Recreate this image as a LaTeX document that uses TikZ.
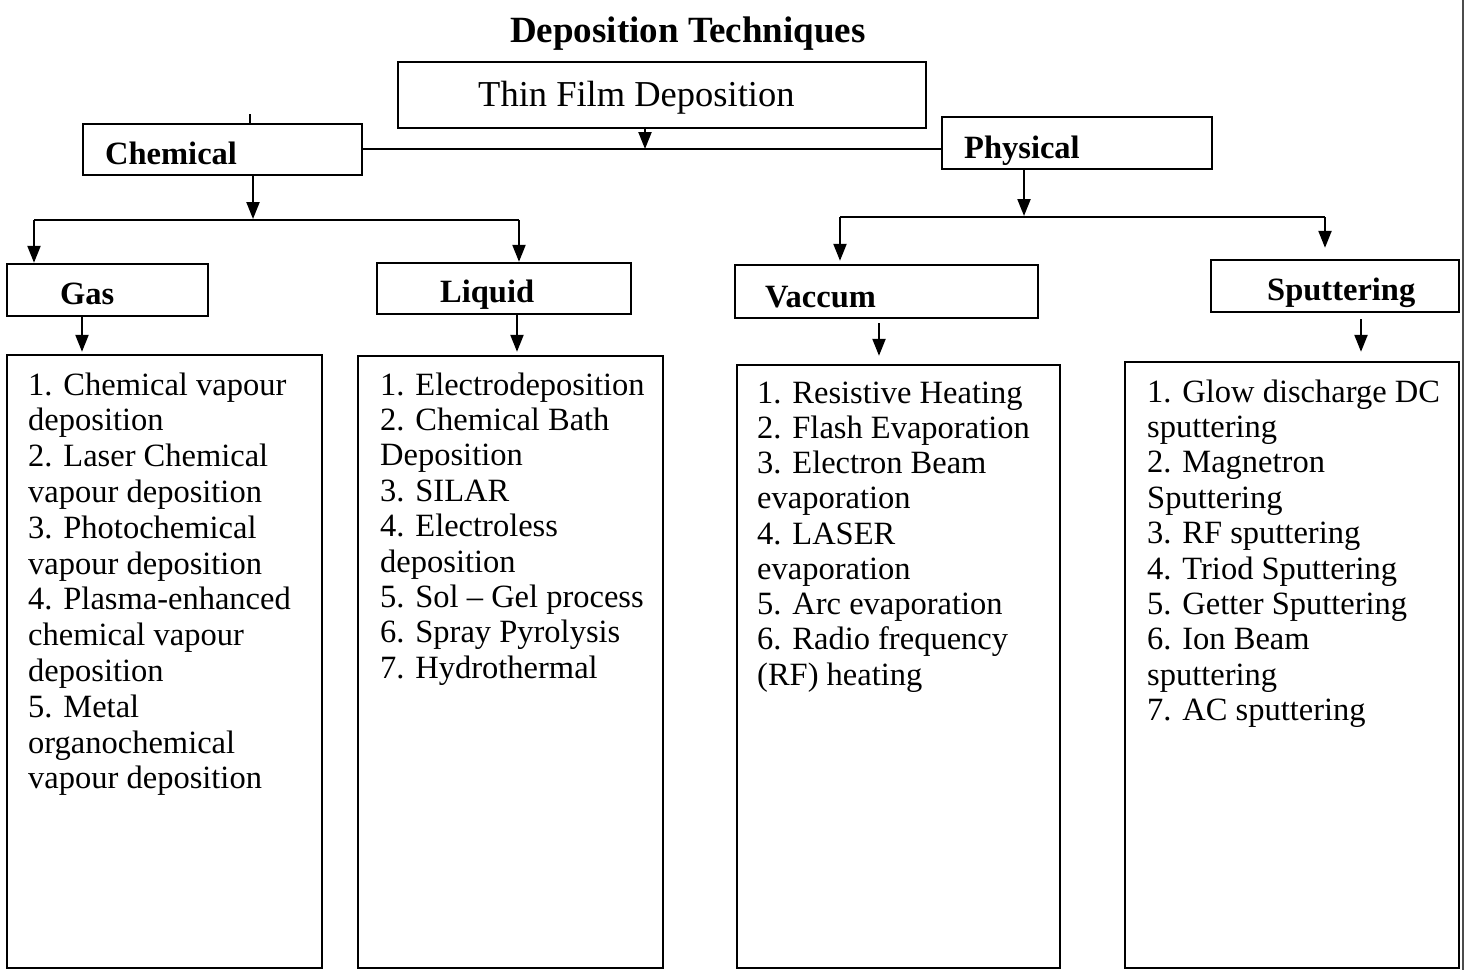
\documentclass[tikz,border=0pt]{standalone}
\usepackage{fontspec}
\setmainfont{Liberation Serif}
\usetikzlibrary{arrows.meta,calc}
\begin{document}
\begin{tikzpicture}[x=1pt,y=-1pt,
  box/.style={draw, line width=2.4pt, rectangle, inner sep=0pt},
  conn/.style={line width=2.2pt},
  arr/.style={line width=2.2pt, -{Triangle[length=17pt,width=13pt]}},
  head/.style={font=\fontsize{32.5}{36}\selectfont\bfseries, anchor=base west, inner sep=0pt},
  item/.style={font=\fontsize{32.5}{36}\selectfont, anchor=base west, inner sep=0pt}]
\useasboundingbox (0,0) rectangle (1466,970);
% title
\node[font=\fontsize{37}{40}\selectfont\bfseries, anchor=base west, inner sep=0pt] (title) at (510,42) {Deposition Techniques};
% boxes
\node[box, minimum width=528pt, minimum height=66pt] (thin) at (662,95) {};
\node[font=\fontsize{36.5}{40}\selectfont, anchor=base west, inner sep=0pt] (thintxt) at (478,106) {Thin Film Deposition};
\node[box, minimum width=279pt, minimum height=51pt] (chem) at (222.5,149.5) {};
\node[head] (chemtxt) at (105,164) {Chemical};
\node[box, minimum width=270pt, minimum height=52pt] (phys) at (1077,143) {};
\node[head] (phystxt) at (964,158) {Physical};
\node[box, minimum width=201pt, minimum height=52pt] (gas) at (107.5,290) {};
\node[head] (gastxt) at (60,304) {Gas};
\node[box, minimum width=254pt, minimum height=51pt] (liq) at (504,288.5) {};
\node[head] (liqtxt) at (440,302) {Liquid};
\node[box, minimum width=303pt, minimum height=53pt] (vac) at (886.5,291.5) {};
\node[head] (vactxt) at (765,307) {Vaccum};
\node[box, minimum width=248pt, minimum height=52pt] (spu) at (1335,286) {};
\node[head] (sputxt) at (1267,300) {Sputtering};
\node[box, minimum width=315pt, minimum height=613pt] (L1) at (164.5,661.5) {};
\node[box, minimum width=305pt, minimum height=612pt] (L2) at (510.5,662) {};
\node[box, minimum width=323pt, minimum height=603pt] (L3) at (898.5,666.5) {};
\node[box, minimum width=334pt, minimum height=606pt] (L4) at (1292,665) {};
% list texts
\foreach \t [count=\i from 0] in {1. Chemical vapour, deposition, 2. Laser Chemical, vapour deposition, 3. Photochemical, vapour deposition, 4. Plasma-enhanced, chemical vapour, deposition, 5. Metal, organochemical, vapour deposition}
  \node[item] (a\i) at (28,395+\i*35.8) {\t};
\foreach \t [count=\i from 0] in {1. Electrodeposition, 2. Chemical Bath, Deposition, 3. SILAR, 4. Electroless, deposition, 5. Sol – Gel process, 6. Spray Pyrolysis, 7. Hydrothermal}
  \node[item] (b\i) at (380,395+\i*35.4) {\t};
\foreach \t [count=\i from 0] in {1. Resistive Heating, 2. Flash Evaporation, 3. Electron Beam, evaporation, 4. LASER, evaporation, 5. Arc evaporation, 6. Radio frequency, (RF) heating}
  \node[item] (c\i) at (757,403+\i*35.25) {\t};
\foreach \t [count=\i from 0] in {1. Glow discharge DC, sputtering, 2. Magnetron, Sputtering, 3. RF sputtering, 4. Triod Sputtering, 5. Getter Sputtering, 6. Ion Beam, sputtering, 7. AC sputtering}
  \node[item] (d\i) at (1147,402+\i*35.4) {\t};
% connectors
\coordinate (top) at (645,149);
\coordinate (tick) at (250,0);
\coordinate (cj) at (253,219);
\coordinate (cl) at (34,220);
\coordinate (cr) at (519,220);
\coordinate (ga) at (82,0);
\coordinate (la) at (517,0);
\coordinate (pj) at (1024,216);
\coordinate (pl) at (840,217);
\coordinate (pr) at (1325,217);
\coordinate (va) at (879,0);
\coordinate (sa) at (1361,0);
\draw[conn] (chem.north -| tick) -- ++(0,-9);
\draw[arr] (thin.south -| top) -- (top);
\draw[conn] (chem.east |- top) -- (phys.west |- top);
\draw[arr] (chem.south -| cj) -- (cj);
\draw[conn] (cl) -- (cr);
\draw[arr] (cl) -- (cl |- gas.north);
\draw[arr] (cr) -- (cr |- liq.north);
\draw[arr, shorten >=2pt] (gas.south -| ga) -- (L1.north -| ga);
\draw[arr, shorten >=3pt] (liq.south -| la) -- (L2.north -| la);
\draw[arr] (phys.south -| pj) -- (pj);
\draw[conn] (pl) -- (pr);
\draw[arr, shorten >=3pt] (pl) -- (pl |- vac.north);
\draw[arr, shorten >=11pt] (pr) -- (pr |- spu.north);
\draw[arr, shorten <=4pt, shorten >=8pt] (vac.south -| va) -- (L3.north -| va);
\draw[arr, shorten <=6pt, shorten >=9pt] (spu.south -| sa) -- (L4.north -| sa);
% page edge
\draw[line width=1.5pt, black!70] (1463,0) -- (1463,970);
\end{tikzpicture}
\end{document}
